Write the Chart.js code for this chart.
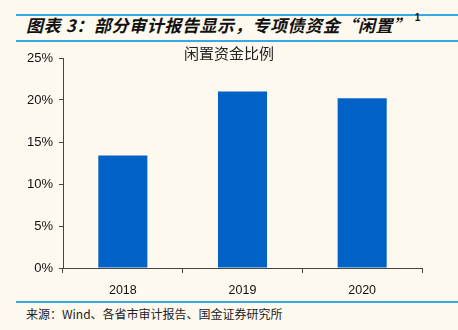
<!DOCTYPE html>
<html>
<head>
<meta charset="utf-8">
<script src="https://cdn.jsdelivr.net/npm/chart.js@4/dist/chart.umd.min.js"></script>
<style>
  html, body { margin: 0; padding: 0; background: #FEF9EF; }
  #page { position: relative; width: 458px; height: 330px; overflow: hidden; background: #FEF9EF; }
  .rule { position: absolute; left: 16px; right: 0; height: 2px; background: #3AA9E3; }
  #head { position: absolute; left: 26px; top: 13px; font: italic bold 17px "Noto Sans CJK SC", sans-serif; letter-spacing: 0.6px; color: #111; white-space: nowrap; line-height: 24px; }
  #head sup { font: bold 10px "Liberation Sans", sans-serif; position: relative; top: -4px; margin-left: 4px; }
  #foot { position: absolute; left: 26px; top: 305px; font: 12px "Noto Sans CJK SC", sans-serif; color: #222; white-space: nowrap; line-height: 18px; }
  #wrap { position: absolute; left: 0; top: 42px; width: 458px; height: 258px; }
</style>
</head>
<body>
<div id="page">
  <div class="rule" style="top:14px"></div>
  <div id="head">图表 3：部分审计报告显示，专项债资金“闲置”<sup>1</sup></div>
  <div class="rule" style="top:40px"></div>
  <div id="wrap"><canvas id="idleChart"></canvas></div>
  <div class="rule" style="top:301px"></div>
  <div id="foot">来源：Wind、各省市审计报告、国金证券研究所</div>
</div>
<script>
// share of special bond funds left idle, by year (%)
var years = ['2018', '2019', '2020'];
var idleShare = [13.4, 21.0, 20.2];
var yTicks = [0, 5, 10, 15, 20, 25];

var chartTitle = '闲置资金比例';

// title sits over the top of the plot, centred on the canvas
var topTitle = {
  id: 'topTitle',
  afterDraw: function (chart) {
    var ctx = chart.ctx;
    ctx.save();
    ctx.font = '15px "Noto Sans CJK SC", sans-serif';
    ctx.fillStyle = '#222';
    ctx.textAlign = 'center';
    ctx.textBaseline = 'middle';
    ctx.fillText(chartTitle, chart.width / 2, 11);
    ctx.restore();
  }
};

var ctx = document.getElementById('idleChart').getContext('2d');
var idleChart = new Chart(ctx, {
  type: 'bar',
  data: {
    labels: years,
    datasets: [{
      label: chartTitle,
      data: idleShare,
      backgroundColor: '#0062C6',
      borderWidth: 0,
      barPercentage: 0.41,
      categoryPercentage: 1
    }]
  },
  options: {
    responsive: true,
    maintainAspectRatio: false,
    animation: false,
    layout: { padding: { top: 16, right: 36, left: 0, bottom: 0 } },
    plugins: {
      legend: { display: false },
      tooltip: { enabled: false }
    },
    scales: {
      x: {
        grid: { offset: true, drawOnChartArea: false, drawTicks: true, tickLength: 5, color: '#444', lineWidth: 1 },
        border: { color: '#444', width: 1 },
        ticks: { color: '#111', font: { family: 'Liberation Sans', size: 12.5 }, padding: 10 },
        afterFit: function (scale) { scale.height = 32; }
      },
      y: {
        min: 0,
        max: 25,
        afterBuildTicks: function (scale) {
          scale.ticks = yTicks.map(function (v) { return { value: v }; });
        },
        grid: { drawOnChartArea: false, drawTicks: true, tickLength: 4, color: '#444', lineWidth: 1 },
        border: { color: '#444', width: 1 },
        ticks: {
          color: '#111',
          font: { family: 'Liberation Sans', size: 13 },
          padding: 6,
          callback: function (v) { return v + '%'; }
        },
        afterFit: function (scale) { scale.width = 63; }
      }
    }
  },
  plugins: [topTitle]
});
</script>
</body>
</html>
